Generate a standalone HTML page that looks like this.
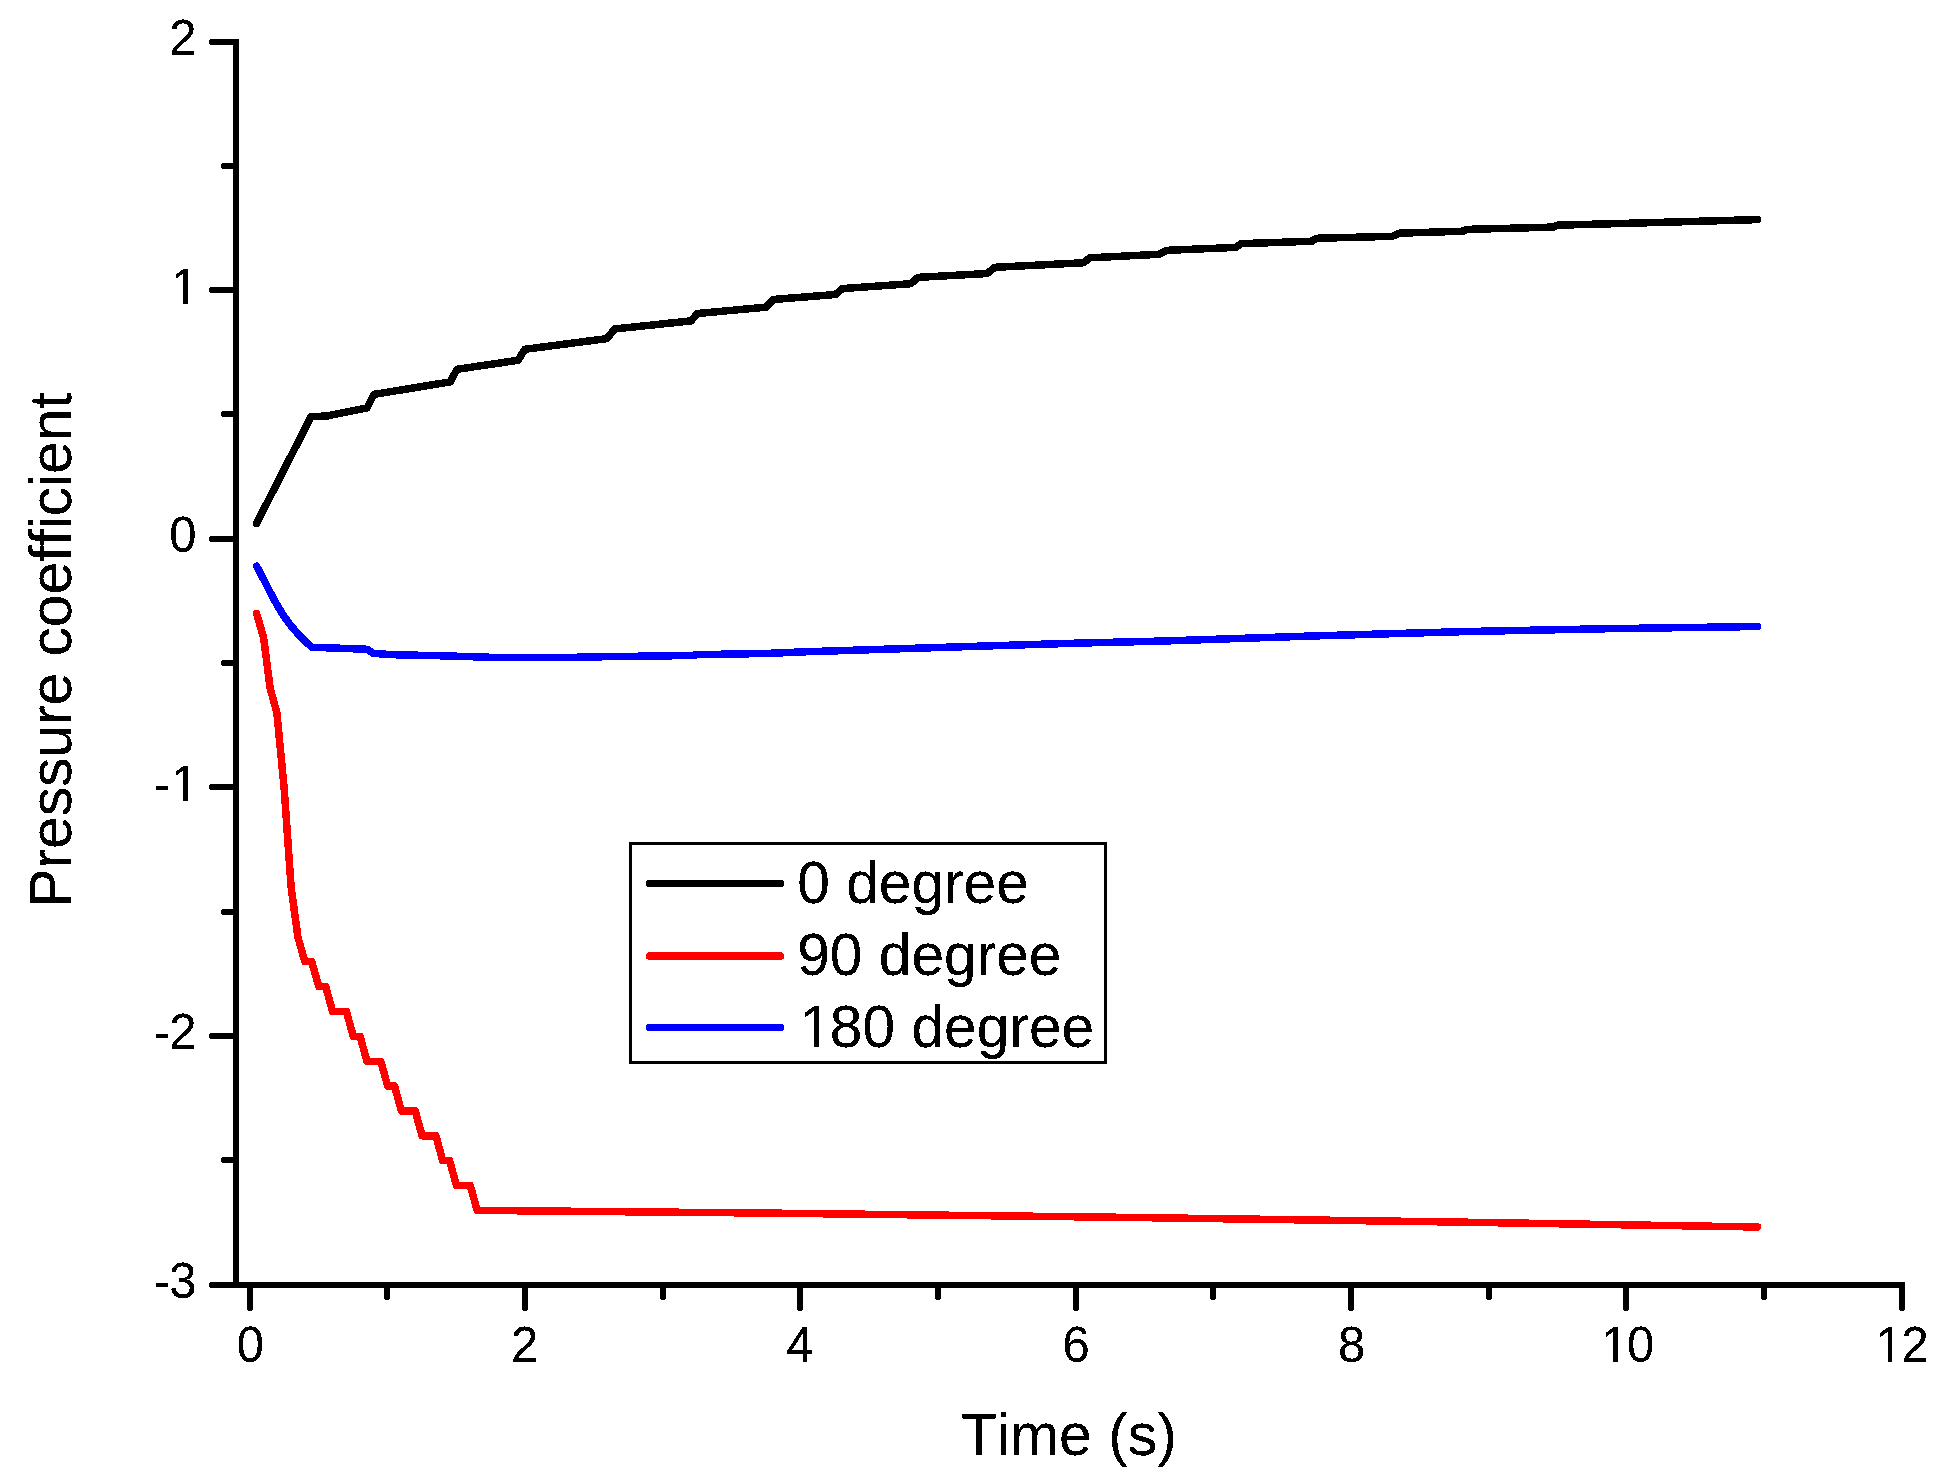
<!DOCTYPE html>
<html lang="en"><head><meta charset="utf-8"><title>Pressure coefficient vs Time</title>
<style>
html,body{margin:0;padding:0;background:#fff;}
body{width:1948px;height:1482px;overflow:hidden;}
svg{display:block;}
</style></head><body>
<svg width="1948" height="1482" viewBox="0 0 1948 1482">
<defs><filter id="alias" x="0" y="0" width="1948" height="1482" filterUnits="userSpaceOnUse" color-interpolation-filters="sRGB"><feComponentTransfer><feFuncR type="discrete" tableValues="0 0 0 1 1"/><feFuncG type="discrete" tableValues="0 0 0 1 1"/><feFuncB type="discrete" tableValues="0 0 0 1 1"/><feFuncA type="discrete" tableValues="0 0 1 1 1"/></feComponentTransfer></filter></defs>
<rect width="1948" height="1482" fill="#fff"/>
<g stroke="#000" stroke-width="6" fill="none" shape-rendering="crispEdges">
<path d="M236 39V1285"/>
<path d="M212 1285H1905" />
<g stroke-linecap="round">
<path d="M212 42.0H236"/>
<path d="M224 166.0H236"/>
<path d="M212 290.0H236"/>
<path d="M224 414.0H236"/>
<path d="M212 539.0H236"/>
<path d="M224 663.0H236"/>
<path d="M212 787.0H236"/>
<path d="M224 912.0H236"/>
<path d="M212 1036.0H236"/>
<path d="M224 1160.0H236"/>
<path d="M212 1285.0H236"/>
<path d="M250.0 1285V1308"/>
<path d="M387.0 1285V1297"/>
<path d="M525.0 1285V1308"/>
<path d="M663.0 1285V1297"/>
<path d="M800.0 1285V1308"/>
<path d="M938.0 1285V1297"/>
<path d="M1076.0 1285V1308"/>
<path d="M1213.0 1285V1297"/>
<path d="M1351.0 1285V1308"/>
<path d="M1489.0 1285V1297"/>
<path d="M1626.0 1285V1308"/>
<path d="M1764.0 1285V1297"/>
<path d="M1902.0 1285V1308"/>
</g>
</g>
<polyline shape-rendering="crispEdges" fill="none" stroke="#000" stroke-width="7.5" stroke-linecap="round" stroke-linejoin="round" points="256.5,523.5 311.2,416.4 326.0,416.2 367.1,407.8 373.9,394.4 450.2,381.9 457.0,369.3 518.0,360.3 524.8,349.3 607.0,338.6 614.5,329.0 691.0,320.9 697.5,313.5 766.0,307.2 773.2,299.5 835.5,294.5 842.4,288.6 910.9,283.7 917.9,277.4 987.2,273.5 994.9,267.3 1083.1,262.8 1090.1,257.8 1159.4,254.3 1166.3,250.4 1235.6,247.4 1241.0,243.7 1311.8,241.2 1316.5,238.3 1392.4,236.3 1399.3,233.2 1463.2,231.2 1467.1,229.4 1553.3,227.1 1557.2,225.2 1635.0,223.1 1757.5,219.6"/>
<polyline shape-rendering="crispEdges" fill="none" stroke="#f00" stroke-width="7.5" stroke-linecap="round" stroke-linejoin="round" points="256.6,613.5 263.6,637.6 270.1,688.0 276.9,712.8 284.2,789.0 291.1,887.0 297.9,937.0 304.8,961.5 311.7,961.5 318.8,986.7 325.7,986.7 332.6,1011.5 339.5,1011.5 346.4,1011.5 353.3,1036.4 360.1,1036.4 367.0,1061.3 373.9,1061.3 380.8,1061.3 387.7,1086.1 394.6,1086.1 401.4,1111.0 408.3,1111.0 415.2,1111.0 422.1,1135.8 429.0,1135.8 435.9,1135.8 442.7,1160.7 449.6,1160.7 456.5,1185.6 463.4,1185.6 470.3,1185.6 477.2,1210.4 760.0,1213.0 1120.0,1217.3 1440.0,1221.8 1757.5,1227.0"/>
<polyline shape-rendering="crispEdges" fill="none" stroke="#00f" stroke-width="7.5" stroke-linecap="round" stroke-linejoin="round" points="256.6,566.2 263.5,579.1 270.4,592.7 277.3,605.4 284.2,616.6 291.1,625.9 297.9,633.7 304.8,640.7 311.7,647.2 367.3,649.3 373.5,653.4 393.0,654.7 442.0,655.8 500.0,657.6 560.0,657.6 598.7,656.8 691.0,655.5 697.0,654.7 768.0,653.4 805.0,651.8 840.0,650.7 991.0,645.8 1086.0,642.9 1161.0,641.1 1315.0,635.9 1464.0,631.6 1602.0,628.8 1757.5,626.5"/>
<g font-family="'Liberation Sans', sans-serif" fill="#000" filter="url(#alias)" style="font-kerning:none;font-variant-ligatures:none">
<g font-size="49">
<text transform="translate(169.35 55.0) scale(1 1.001)">2</text>
<text transform="translate(169.35 303.6) scale(1 1.001)" dx="1.63">1</text>
<text transform="translate(169.35 552.2) scale(1 1.001)">0</text>
<text transform="translate(153.03 800.8) scale(1 1.001)" dx="1.20 0.43">-1</text>
<text transform="translate(153.03 1049.4) scale(1 1.001)" dx="1.20 -1.20">-2</text>
<text transform="translate(153.03 1298.0) scale(1 1.001)" dx="1.20 -1.20">-3</text>
<text transform="translate(236.87 1362.0) scale(1 1.001)">0</text>
<text transform="translate(511.11 1362.0) scale(1 1.001)">2</text>
<text transform="translate(786.34 1362.0) scale(1 1.001)">4</text>
<text transform="translate(1062.58 1362.0) scale(1 1.001)">6</text>
<text transform="translate(1338.01 1362.0) scale(1 1.001)">8</text>
<text transform="translate(1599.72 1362.0) scale(1 1.001)" dx="1.63 -1.63">10</text>
<text transform="translate(1874.15 1362.0) scale(1 1.001)" dx="1.63 -1.63">12</text>
</g>
<text font-size="58.9" text-anchor="middle" transform="translate(1068.9 1455.2) scale(1 1.02)">Time (s)</text>
<text font-size="58.7" text-anchor="middle" transform="translate(71.2 649.9) rotate(-90) scale(1 1.02)">Pressure coefficient</text>
<rect x="630.5" y="843.5" width="475" height="219" fill="#fff" stroke="#000" stroke-width="3" shape-rendering="crispEdges"/>
<path d="M649.5 883.5H780.5" stroke="#000" stroke-width="7.5" stroke-linecap="round" shape-rendering="crispEdges"/>
<text transform="translate(797.20 902.8) scale(1 1.02)" font-size="58.7">0 degree</text>
<path d="M649.5 956.0H780.5" stroke="#f00" stroke-width="7.5" stroke-linecap="round" shape-rendering="crispEdges"/>
<text transform="translate(797.20 974.8) scale(1 1.02)" font-size="58.7">90 degree</text>
<path d="M649.5 1027.5H780.5" stroke="#00f" stroke-width="7.5" stroke-linecap="round" shape-rendering="crispEdges"/>
<text transform="translate(797.20 1046.8) scale(1 1.02)" dx="1.95 -1.95 0.00 0.00 0.00 0.00 0.00 0.00 0.00 0.00" font-size="58.7">180 degree</text>
<rect x="173" y="300" width="10" height="5" fill="#fff"/>
<rect x="188" y="300" width="9" height="5" fill="#fff"/>
<rect x="173" y="797" width="10" height="5" fill="#fff"/>
<rect x="188" y="797" width="9" height="5" fill="#fff"/>
<rect x="1604" y="1358" width="9" height="5" fill="#fff"/>
<rect x="1618" y="1358" width="10" height="5" fill="#fff"/>
<rect x="1878" y="1358" width="10" height="5" fill="#fff"/>
<rect x="1892" y="1358" width="10" height="5" fill="#fff"/>
<rect x="802" y="1042" width="12" height="6" fill="#fff"/>
<rect x="819" y="1042" width="11" height="6" fill="#fff"/>
</g>
</svg>
</body></html>
